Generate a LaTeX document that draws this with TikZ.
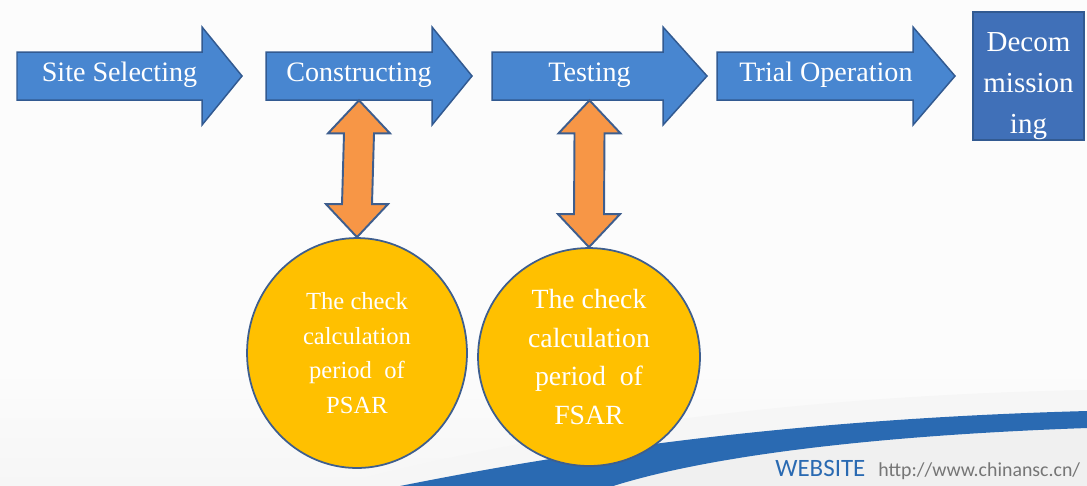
\documentclass[tikz,border=0pt]{standalone}
\usepackage{fontspec}
\setmainfont{Liberation Serif}
\newfontfamily\webfont{Carlito}
\usetikzlibrary{calc, shapes.geometric}

\definecolor{stageblue}{RGB}{72,134,208}
\definecolor{stageline}{RGB}{50,90,145}
\definecolor{endblue}{RGB}{64,112,184}
\definecolor{linkorange}{RGB}{247,150,70}
\definecolor{linkline}{RGB}{62,94,142}
\definecolor{sargold}{RGB}{255,192,0}
\definecolor{swooshblue}{RGB}{42,106,178}
\definecolor{urlgray}{RGB}{118,118,118}

% one stage of the flow: outline from tail to tip, text node on the shaft
\newcommand{\stage}[5]{%
  \draw[stagearrow] (#2,52) -- (#3,52) -- (#3,27) -- (#4,76) -- (#3,125) -- (#3,100) -- (#2,100) -- cycle;
  \node[stagetext] (#1) at ({(#2+#4)/2-10},76) {#5};}

% fat double arrow from a stage down to its check circle
\newcommand{\checklink}[2]{%
  \draw[linkarrow] (#1) -- ++(31,33) -- ++(-16,0) -- ($(#2)+(15,-33)$) -- ++(16,0) -- (#2)
    -- ++(-31,-33) -- ++(16,0) -- ($(#1)+(-15,33)$) -- ++(-16,0) -- cycle;}

\begin{document}
\begin{tikzpicture}[
    x=0.02cm, y=-0.02cm,
    stagearrow/.style={fill=stageblue, draw=stageline, line width=0.85pt, line join=miter},
    stagetext/.style={text=white, font=\fontsize{16}{19}\selectfont, inner sep=0pt,
      minimum height=0.96cm, text height=0.8em, text depth=0.14em},
    linkarrow/.style={fill=linkorange, draw=linkline, line width=1.1pt, line join=miter},
    sarcircle/.style={ellipse, fill=sargold, draw=linkline, line width=1pt, text=white,
      align=center, inner sep=0pt}
  ]
  % page background and the swoosh at the bottom
  \fill[gray!2] (0,0) rectangle (1087,485);
  \useasboundingbox (0,0) rectangle (1087,485);
  \shade[top color=gray!2, bottom color=gray!7] (0,360) rectangle (1087,485);
  \fill[gray!7] (330,487) .. controls (500,440) and (760,396) .. (1087,390)
    -- (1087,412) .. controls (750,420) and (520,462) .. (395,487) -- cycle;
  \fill[gray!12] (610,487) .. controls (700,458) and (860,436) .. (1087,428) -- (1087,487) -- cycle;
  \fill[swooshblue] (395,487) .. controls (520,462) and (750,420) .. (1087,411)
    -- (1087,428) .. controls (860,436) and (700,458) .. (610,487) -- cycle;

  % the stages
  \stage{site}{17}{202}{242}{Site Selecting}
  \stage{cons}{266}{432}{472}{Constructing}
  \stage{test}{492}{663}{707}{Testing}
  \stage{trial}{717}{913}{955}{Trial Operation}
  \node[fill=endblue, draw=stageline, line width=0.85pt, minimum width=2.22cm, minimum height=2.56cm,
    inner sep=0pt] (decom) at (1028.5,76) {};
  \node[text=white, align=center, inner sep=0pt, font=\fontsize{16.5}{23.5}\selectfont]
    (decomtext) at ([yshift=-0.2cm]decom.center) {Decom\\mission\\ing};

  % safety analysis report checks
  \node[sarcircle, minimum width=4.4cm, minimum height=4.6cm, font=\fontsize{14}{19.8}\selectfont]
    (psar) at (357,353) {The check\\calculation\\period\ \ of\\PSAR};
  \node[sarcircle, minimum width=4.44cm, minimum height=4.36cm, font=\fontsize{15.8}{22}\selectfont]
    (fsar) at (589,357) {The check\\calculation\\period\ \ of\\FSAR};

  \checklink{cons.south}{psar.north}
  \checklink{test.south}{fsar.north}

  % footer
  \node[anchor=base west, inner sep=0pt, text=swooshblue, font=\webfont\fontsize{14.2}{16}\selectfont]
    (web) at (775,476) {WEBSITE};
  \node[anchor=base west, inner sep=0pt, text=urlgray, font=\webfont\fontsize{11.3}{13}\selectfont]
    (url) at (878,476) {http://www.chinansc.cn/};
\end{tikzpicture}
\end{document}
